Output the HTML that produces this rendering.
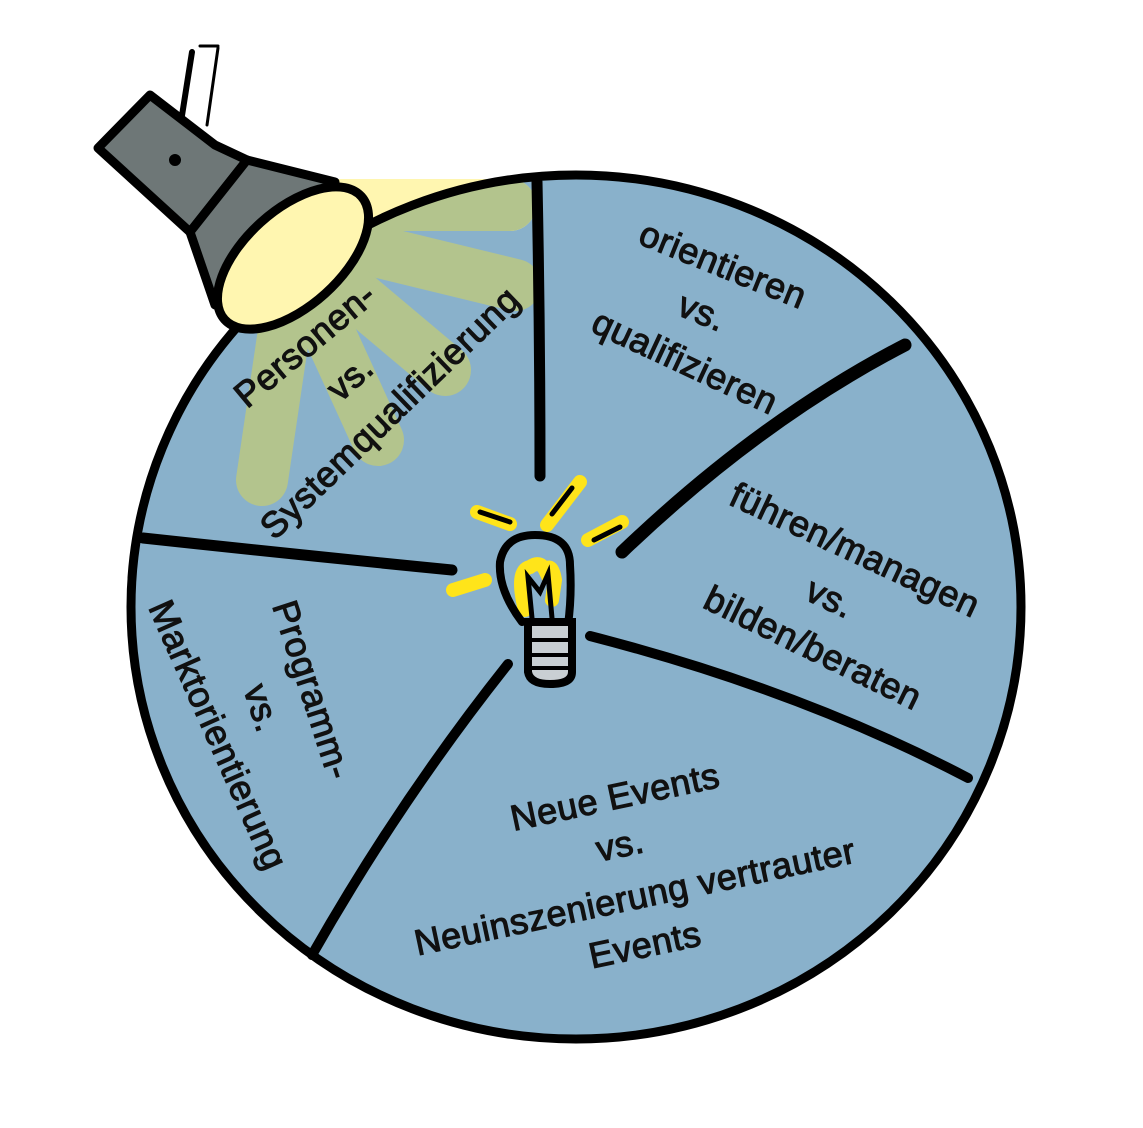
<!DOCTYPE html>
<html><head><meta charset="utf-8"><style>
html,body{margin:0;padding:0;background:#fff;}
svg{display:block;}
text{font-family:"Liberation Sans",sans-serif;font-size:36px;letter-spacing:0.6px;fill:#111;stroke:#111;stroke-width:1.1;text-anchor:middle;}
</style></head><body>
<svg width="1143" height="1128" viewBox="0 0 1143 1128" xmlns="http://www.w3.org/2000/svg">
<defs>
<clipPath id="c"><ellipse cx="576" cy="607" rx="445" ry="432"/></clipPath>
</defs>
<ellipse cx="576" cy="607" rx="445" ry="432" fill="#89b1cb"/>
<g stroke="#fff6b0" stroke-width="52" stroke-linecap="round" fill="none">
<line x1="330" y1="205" x2="510" y2="205"/>
</g>
<g clip-path="url(#c)" stroke="#b3c48d" stroke-width="52" stroke-linecap="round" fill="none">
<line x1="330" y1="205" x2="510" y2="205"/>
<line x1="330" y1="240" x2="515" y2="285"/>
<line x1="320" y1="265" x2="445" y2="370"/>
<line x1="305" y1="280" x2="378" y2="440"/>
<line x1="290" y1="290" x2="262" y2="480"/>
</g>
<ellipse cx="576" cy="607" rx="445" ry="432" fill="none" stroke="#000" stroke-width="9"/>
<g stroke="#000" stroke-linecap="round" fill="none">
<path d="M537 182 Q540 330 540 476" stroke-width="11"/>
<path d="M905 345 Q760 420 622 552" stroke-width="13"/>
<path d="M143 538 Q300 555 452 570" stroke-width="11"/>
<path d="M590 636 Q800 690 968 778" stroke-width="10"/>
<path d="M508 664 Q400 800 312 955" stroke-width="10"/>
</g>
<g stroke="#000" stroke-width="9" stroke-linejoin="round" stroke-linecap="round">
<line x1="175" y1="160" x2="192" y2="52" stroke-width="6"/>
<line x1="207" y1="125" x2="218" y2="48" stroke-width="3"/>
<line x1="200" y1="46" x2="218" y2="46" stroke-width="3"/>
<polygon points="98,148 150,95 215,145 247,160 190,232" fill="#6e7777"/>
<polygon points="247,160 335,182 305,215 215,305 190,232" fill="#6e7777"/>
<circle cx="175" cy="160" r="4" fill="#000" stroke-width="4"/>
<ellipse cx="293" cy="258" rx="92" ry="48" transform="rotate(-42 293 258)" fill="#fff6b0"/>
</g>
<g stroke-linecap="round" fill="none">
<g stroke="#ffe41a" stroke-width="14">
<line x1="477" y1="512" x2="510" y2="524"/>
<line x1="547" y1="525" x2="580" y2="482"/>
<line x1="588" y1="540" x2="622" y2="522"/>
<line x1="453" y1="590" x2="485" y2="580"/>
<path d="M525 610 Q515 570 530 567 Q540 560 545 570 Q552 562 555 580 L552 600"/>
</g>
<g stroke="#000" stroke-width="5">
<line x1="480" y1="512" x2="510" y2="522"/>
<line x1="552" y1="514" x2="572" y2="488"/>
<line x1="594" y1="540" x2="620" y2="527"/>
</g>
<path d="M522 622 Q498 590 500 562 Q505 535 535 535 Q570 535 570 565 Q572 595 568 625" stroke="#000" stroke-width="8"/>
<path d="M528 622 L528 672 Q530 684 550 684 Q572 684 572 672 L572 622 Z" fill="#c9cfd3" stroke="#000" stroke-width="8"/>
<g stroke="#000" stroke-width="4">
<line x1="532" y1="640" x2="568" y2="640"/>
<line x1="532" y1="655" x2="568" y2="655"/>
<line x1="532" y1="668" x2="568" y2="668"/>
</g>
<path d="M532 618 L528 577 L540 592 L548 574 L552 618" stroke="#000" stroke-width="5"/>
</g>
<g transform="translate(305 345) rotate(-40)"><text y="12">Personen-</text></g>
<g transform="translate(350 378) rotate(-42)"><text y="12">vs.</text></g>
<g transform="translate(390 413) rotate(-44)"><text y="12">Systemqualifizierung</text></g>

<g transform="translate(723 265) rotate(22)"><text y="12">orientieren</text></g>
<g transform="translate(702 312) rotate(22)"><text y="12">vs.</text></g>
<g transform="translate(685 362) rotate(25)"><text y="12">qualifizieren</text></g>

<g transform="translate(855 550) rotate(25)"><text y="12">führen/managen</text></g>
<g transform="translate(830 598) rotate(25)"><text y="12">vs.</text></g>
<g transform="translate(813 648) rotate(26)"><text y="12">bilden/beraten</text></g>

<g transform="translate(615 797) rotate(-12)"><text y="12">Neue Events</text></g>
<g transform="translate(620 845) rotate(-12)"><text y="12">vs.</text></g>
<g transform="translate(635 897) rotate(-12)"><text y="12">Neuinszenierung vertrauter</text></g>
<g transform="translate(645 945) rotate(-12)"><text y="12">Events</text></g>

<g transform="translate(312 690) rotate(72)"><text y="12">Programm-</text></g>
<g transform="translate(262 708) rotate(72)"><text y="12">vs.</text></g>
<g transform="translate(218 735) rotate(66)"><text y="12">Marktorientierung</text></g>
</svg>
</body></html>
